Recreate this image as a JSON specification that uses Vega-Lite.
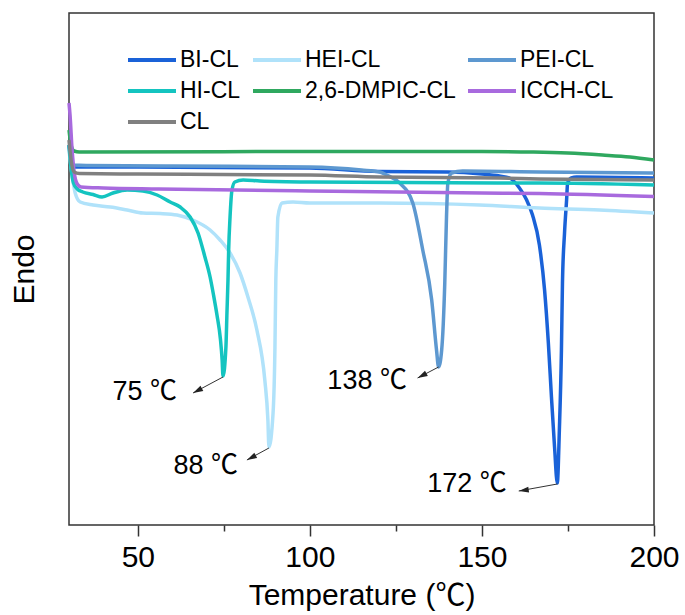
{
  "$schema": "https://vega.github.io/schema/vega-lite/v6.json",
  "autosize": "none",
  "width": 585,
  "height": 512,
  "padding": {"left": 69, "top": 13, "right": 31, "bottom": 90},
  "background": "white",
  "config": {
    "view": {"stroke": "#333333", "strokeWidth": 1.5},
    "font": "Liberation Sans, Noto Sans CJK SC"
  },
  "datasets": {
    "curves": [
      {"s":"BI-CL","t":30,"v":380},{"s":"BI-CL","t":30.6,"v":365},{"s":"BI-CL","t":31.3,"v":358},{"s":"BI-CL","t":35,"v":358},{"s":"BI-CL","t":50,"v":358},{"s":"BI-CL","t":100,"v":357},{"s":"BI-CL","t":120,"v":353.5},{"s":"BI-CL","t":140,"v":353},{"s":"BI-CL","t":150,"v":351},{"s":"BI-CL","t":155.1,"v":349},{"s":"BI-CL","t":158,"v":347},{"s":"BI-CL","t":160.9,"v":337},{"s":"BI-CL","t":163,"v":325},{"s":"BI-CL","t":164.7,"v":310},{"s":"BI-CL","t":166.7,"v":280},{"s":"BI-CL","t":168.2,"v":235},{"s":"BI-CL","t":169.3,"v":182},{"s":"BI-CL","t":170.2,"v":128},{"s":"BI-CL","t":171.1,"v":78},{"s":"BI-CL","t":171.9,"v":42},{"s":"BI-CL","t":172.5,"v":95},{"s":"BI-CL","t":173.1,"v":175},{"s":"BI-CL","t":173.4,"v":242},{"s":"BI-CL","t":174,"v":292},{"s":"BI-CL","t":174.6,"v":325},{"s":"BI-CL","t":174.9,"v":342},{"s":"BI-CL","t":176,"v":347},{"s":"BI-CL","t":177.5,"v":348},{"s":"BI-CL","t":200,"v":347},
      {"s":"HEI-CL","t":30,"v":375},{"s":"HEI-CL","t":30.9,"v":350},{"s":"HEI-CL","t":31.8,"v":332},{"s":"HEI-CL","t":33.25,"v":323},{"s":"HEI-CL","t":37,"v":320},{"s":"HEI-CL","t":42,"v":318},{"s":"HEI-CL","t":46.9,"v":315},{"s":"HEI-CL","t":51.5,"v":312},{"s":"HEI-CL","t":56.5,"v":311.5},{"s":"HEI-CL","t":61.4,"v":310},{"s":"HEI-CL","t":66,"v":305},{"s":"HEI-CL","t":71,"v":295},{"s":"HEI-CL","t":73.9,"v":285},{"s":"HEI-CL","t":76.8,"v":272},{"s":"HEI-CL","t":79.7,"v":252},{"s":"HEI-CL","t":82,"v":228},{"s":"HEI-CL","t":84.6,"v":195},{"s":"HEI-CL","t":86.9,"v":145},{"s":"HEI-CL","t":87.8,"v":105},{"s":"HEI-CL","t":88.1,"v":78},{"s":"HEI-CL","t":89.3,"v":112},{"s":"HEI-CL","t":89.85,"v":178},{"s":"HEI-CL","t":90.1,"v":245},{"s":"HEI-CL","t":90.4,"v":275},{"s":"HEI-CL","t":90.7,"v":308},{"s":"HEI-CL","t":91.9,"v":322},{"s":"HEI-CL","t":95.1,"v":323},{"s":"HEI-CL","t":100,"v":322},{"s":"HEI-CL","t":120.3,"v":322},{"s":"HEI-CL","t":149.3,"v":320},{"s":"HEI-CL","t":166.7,"v":317},{"s":"HEI-CL","t":184.2,"v":315},{"s":"HEI-CL","t":200,"v":312},
      {"s":"PEI-CL","t":30,"v":380},{"s":"PEI-CL","t":30.6,"v":365},{"s":"PEI-CL","t":31.3,"v":360},{"s":"PEI-CL","t":35,"v":359.5},{"s":"PEI-CL","t":60,"v":359},{"s":"PEI-CL","t":100,"v":358},{"s":"PEI-CL","t":115,"v":355},{"s":"PEI-CL","t":120.3,"v":353},{"s":"PEI-CL","t":122.3,"v":350},{"s":"PEI-CL","t":126.1,"v":342},{"s":"PEI-CL","t":129.9,"v":322},{"s":"PEI-CL","t":132.8,"v":275},{"s":"PEI-CL","t":135.4,"v":225},{"s":"PEI-CL","t":136.8,"v":175},{"s":"PEI-CL","t":137.4,"v":158},{"s":"PEI-CL","t":138.3,"v":175},{"s":"PEI-CL","t":139.2,"v":242},{"s":"PEI-CL","t":139.7,"v":308},{"s":"PEI-CL","t":140.1,"v":342},{"s":"PEI-CL","t":141.2,"v":352},{"s":"PEI-CL","t":144.4,"v":354},{"s":"PEI-CL","t":166.7,"v":353},{"s":"PEI-CL","t":200,"v":352},
      {"s":"HI-CL","t":30,"v":380},{"s":"HI-CL","t":30.6,"v":357},{"s":"HI-CL","t":31.3,"v":342},{"s":"HI-CL","t":32.4,"v":336},{"s":"HI-CL","t":34,"v":333},{"s":"HI-CL","t":37,"v":330.5},{"s":"HI-CL","t":39.6,"v":328},{"s":"HI-CL","t":42.8,"v":332},{"s":"HI-CL","t":46.9,"v":335},{"s":"HI-CL","t":51.5,"v":334},{"s":"HI-CL","t":55.6,"v":330},{"s":"HI-CL","t":59.4,"v":323},{"s":"HI-CL","t":62.3,"v":318},{"s":"HI-CL","t":65.2,"v":308},{"s":"HI-CL","t":67.5,"v":292},{"s":"HI-CL","t":69.5,"v":268},{"s":"HI-CL","t":71,"v":248},{"s":"HI-CL","t":72,"v":230},{"s":"HI-CL","t":73,"v":210},{"s":"HI-CL","t":74,"v":186},{"s":"HI-CL","t":74.5,"v":165},{"s":"HI-CL","t":74.75,"v":149},{"s":"HI-CL","t":75.6,"v":178},{"s":"HI-CL","t":75.9,"v":212},{"s":"HI-CL","t":76.2,"v":245},{"s":"HI-CL","t":76.4,"v":275},{"s":"HI-CL","t":76.8,"v":308},{"s":"HI-CL","t":77.36,"v":335},{"s":"HI-CL","t":78.2,"v":343},{"s":"HI-CL","t":80.6,"v":345},{"s":"HI-CL","t":85.5,"v":344},{"s":"HI-CL","t":100,"v":343},{"s":"HI-CL","t":155,"v":342},{"s":"HI-CL","t":166.7,"v":342},{"s":"HI-CL","t":200,"v":340},
      {"s":"2,6-DMPIC-CL","t":30,"v":395},{"s":"2,6-DMPIC-CL","t":30.6,"v":380},{"s":"2,6-DMPIC-CL","t":31.5,"v":374},{"s":"2,6-DMPIC-CL","t":33,"v":373},{"s":"2,6-DMPIC-CL","t":100,"v":373.5},{"s":"2,6-DMPIC-CL","t":150,"v":373.5},{"s":"2,6-DMPIC-CL","t":165,"v":373},{"s":"2,6-DMPIC-CL","t":175,"v":372},{"s":"2,6-DMPIC-CL","t":185,"v":370},{"s":"2,6-DMPIC-CL","t":193,"v":368},{"s":"2,6-DMPIC-CL","t":200,"v":365},
      {"s":"ICCH-CL","t":30,"v":422},{"s":"ICCH-CL","t":30.3,"v":410},{"s":"ICCH-CL","t":30.9,"v":375},{"s":"ICCH-CL","t":31.5,"v":353},{"s":"ICCH-CL","t":32.4,"v":341},{"s":"ICCH-CL","t":33.5,"v":338},{"s":"ICCH-CL","t":40,"v":337},{"s":"ICCH-CL","t":56,"v":336},{"s":"ICCH-CL","t":100,"v":334},{"s":"ICCH-CL","t":150,"v":332},{"s":"ICCH-CL","t":166.7,"v":331.5},{"s":"ICCH-CL","t":200,"v":328.5},
      {"s":"CL","t":30,"v":385},{"s":"CL","t":30.6,"v":365},{"s":"CL","t":31.5,"v":353},{"s":"CL","t":33,"v":351.5},{"s":"CL","t":50,"v":351},{"s":"CL","t":100,"v":350},{"s":"CL","t":120.3,"v":348},{"s":"CL","t":155,"v":347},{"s":"CL","t":166.7,"v":346},{"s":"CL","t":200,"v":345}
    ],
    "notes": [
      {"label":"75 ℃","tx":61.4,"ty":133,"x0":74.75,"y0":148,"x1":66.05,"y1":132},
      {"label":"88 ℃","tx":79.1,"ty":59,"x0":88.1,"y0":77,"x1":81.7,"y1":65},
      {"label":"138 ℃","tx":128.2,"ty":144,"x0":137.4,"y0":158,"x1":131.3,"y1":147},
      {"label":"172 ℃","tx":157.2,"ty":41,"x0":171.9,"y0":41,"x1":160.7,"y1":34}
    ]
  },
  "layer": [
    {
      "data": {"name": "curves"},
      "mark": {"type": "line", "strokeWidth": 3.5, "interpolate": "monotone"},
      "encoding": {
        "x": {"field": "t", "type": "quantitative",
          "scale": {"domain": [30, 200], "nice": false, "zero": false},
          "axis": {
            "title": "Temperature (℃)", "titleFontSize": 30, "titleFontWeight": "normal", "titleColor": "black", "titlePadding": 8,
            "values": [50, 75, 100, 125, 150, 175, 200],
            "labelExpr": "datum.value % 50 === 0 ? datum.label : ''",
            "labelFontSize": 30, "labelColor": "black", "labelFlush": false, "labelOverlap": false, "labelPadding": 6,
            "tickSize": {"condition": {"test": "datum.value % 50 === 0", "value": 11}, "value": 6},
            "tickColor": "#333333", "tickWidth": 1.5,
            "domain": false, "grid": false
          }
        },
        "y": {"field": "v", "type": "quantitative",
          "scale": {"domain": [0, 512], "nice": false, "zero": false},
          "axis": {"title": "Endo", "titleFontSize": 30, "titleFontWeight": "normal", "titleColor": "black", "titlePadding": 30,
            "labels": false, "ticks": false, "domain": false, "grid": false}
        },
        "color": {"field": "s", "type": "nominal",
          "scale": {
            "domain": ["BI-CL", "HEI-CL", "PEI-CL", "HI-CL", "2,6-DMPIC-CL", "ICCH-CL", "CL"],
            "range": ["#1a62d8", "#b0e2fa", "#5d98d0", "#14c4c0", "#2fa85f", "#a86ade", "#808080"]
          },
          "legend": {
            "title": null, "orient": "none", "direction": "horizontal", "legendX": 69, "legendY": 33, "columns": 3,
            "symbolType": "M-2,0L2,0", "symbolSize": 576, "symbolStrokeWidth": 4,
            "labelFontSize": 23, "labelColor": "black", "labelOffset": 14, "labelLimit": 300,
            "columnPadding": 4, "rowPadding": 5, "padding": 0
          }
        }
      }
    },
    {
      "data": {"name": "notes"},
      "mark": {"type": "rule", "color": "#333333", "strokeWidth": 1},
      "encoding": {
        "x": {"field": "x0", "type": "quantitative"},
        "y": {"field": "y0", "type": "quantitative"},
        "x2": {"field": "x1"},
        "y2": {"field": "y1"}
      }
    },
    {
      "data": {"name": "notes"},
      "transform": [{"filter": "datum.label != '172 ℃'"}],
      "mark": {"type": "point", "shape": "M0,0L0.6,2L-0.6,2Z", "filled": true, "color": "#222222", "size": 100, "angle": 242, "opacity": 1},
      "encoding": {
        "x": {"field": "x1", "type": "quantitative"},
        "y": {"field": "y1", "type": "quantitative"}
      }
    },
    {
      "data": {"name": "notes"},
      "transform": [{"filter": "datum.label == '172 ℃'"}],
      "mark": {"type": "point", "shape": "M0,0L0.6,2L-0.6,2Z", "filled": true, "color": "#222222", "size": 100, "angle": 262, "opacity": 1},
      "encoding": {
        "x": {"field": "x1", "type": "quantitative"},
        "y": {"field": "y1", "type": "quantitative"}
      }
    },
    {
      "data": {"name": "notes"},
      "mark": {"type": "text", "fontSize": 27, "align": "right", "baseline": "middle", "color": "black"},
      "encoding": {
        "x": {"field": "tx", "type": "quantitative"},
        "y": {"field": "ty", "type": "quantitative"},
        "text": {"field": "label"}
      }
    }
  ]
}
